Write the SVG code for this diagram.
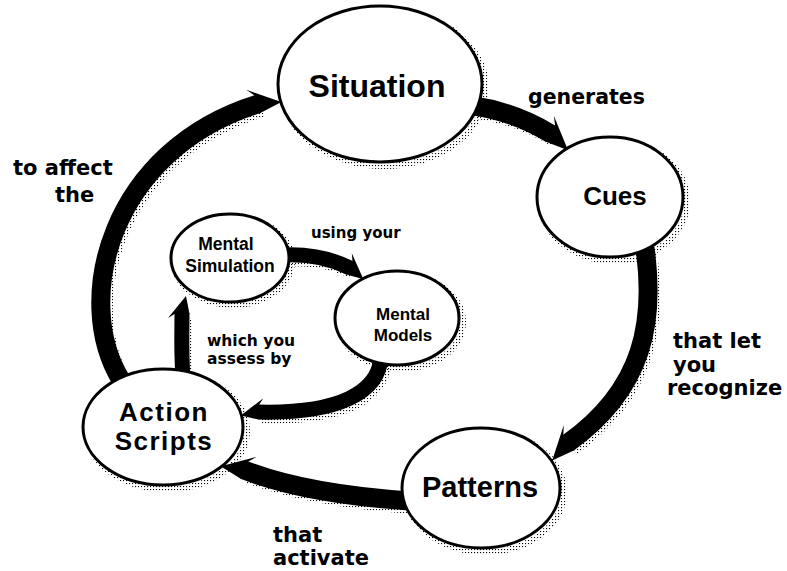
<svg xmlns="http://www.w3.org/2000/svg" width="787" height="571" viewBox="0 0 787 571">
  <defs>
    <pattern id="dots" width="3" height="3" patternUnits="userSpaceOnUse">
      <rect x="0" y="0" width="1.1" height="1.1" fill="#000"/>
    </pattern>
    <marker id="hL" markerUnits="userSpaceOnUse" orient="auto" overflow="visible" refX="0" refY="0" markerWidth="30" markerHeight="30">
      <path d="M-1,-9.5 L-7,-17 L23,5 L-1,9.5 Z" fill="#000"/>
    </marker>
    <marker id="hR" markerUnits="userSpaceOnUse" orient="auto" overflow="visible" refX="0" refY="0" markerWidth="30" markerHeight="30">
      <path d="M-1,9.5 L-7,17 L23,-5 L-1,-9.5 Z" fill="#000"/>
    </marker>
    <marker id="sL" markerUnits="userSpaceOnUse" orient="auto" overflow="visible" refX="0" refY="0" markerWidth="24" markerHeight="24">
      <path d="M-1,-7.5 L-5,-14 L17,4 L-1,7.5 Z" fill="#000"/>
    </marker>
    <marker id="sR" markerUnits="userSpaceOnUse" orient="auto" overflow="visible" refX="0" refY="0" markerWidth="24" markerHeight="24">
      <path d="M-1,7.5 L-5,14 L17,-4 L-1,-7.5 Z" fill="#000"/>
    </marker>
  </defs>
  <style>
    .band { fill: none; stroke: #000; stroke-width: 19; stroke-linecap: butt; }
    .thin { fill: none; stroke: #000; stroke-width: 15; stroke-linecap: butt; }
    .shad { fill: none; stroke: url(#dots); stroke-linecap: butt; }
    .node { fill: #fff; stroke: #000; stroke-width: 3; }
    .nshad { fill: none; stroke: url(#dots); stroke-width: 6; }
    .nl { font-family: "Liberation Sans", Arial, sans-serif; font-weight: bold; fill: #000; text-anchor: middle; }
    .el { font-family: "DejaVu Sans", "Liberation Sans", sans-serif; font-weight: bold; fill: #000; }
  </style>
  <rect width="787" height="571" fill="#fff"/>

  <g id="connectors">
    <g transform="translate(4,5)">
      <path class="shad" stroke-width="16" d="M474,106 C502,110 528,120 551,134"/>
      <path class="shad" stroke-width="16" d="M645,248 C655,320 645,388 568,443"/>
      <path class="shad" stroke-width="16" d="M410,501 C350,497 290,488 244,470"/>
      <path class="shad" stroke-width="16" d="M121,380 C72,300 110,150 258,104"/>
      <path class="shad" stroke-width="13" d="M284,255 C310,254 332,259 350,268"/>
      <path class="shad" stroke-width="13" d="M381,358 C378,392 340,414 258,412"/>
      <path class="shad" stroke-width="13" d="M183,378 C181,350 182,330 182,313"/>
    </g>
    <path id="e-situation-cues" class="band" marker-end="url(#hL)" d="M474,106 C502,110 528,120 551,134"/>
    <path id="e-cues-patterns" class="band" marker-end="url(#hR)" d="M645,248 C655,320 645,388 568,443"/>
    <path id="e-patterns-action" class="band" marker-end="url(#hR)" d="M410,501 C350,497 290,488 244,470"/>
    <path id="e-action-situation" class="band" marker-end="url(#hL)" d="M121,380 C72,300 110,150 258,104"/>
    <path id="e-sim-models" class="thin" marker-end="url(#sL)" d="M284,255 C310,254 332,259 350,268"/>
    <path id="e-models-action" class="thin" marker-end="url(#sR)" d="M381,358 C378,392 340,414 258,412"/>
    <path id="e-action-sim" class="thin" marker-end="url(#sL)" d="M183,378 C181,350 182,330 182,313"/>

    <text class="el" x="528" y="104" font-size="20.5">generates</text>
    <text class="el" x="13" y="175" font-size="21">to affect</text>
    <text class="el" x="55" y="202" font-size="21">the</text>
    <text class="el" x="673" y="348" font-size="21">that let</text>
    <text class="el" x="673" y="372" font-size="21">you</text>
    <text class="el" x="667" y="395" font-size="21">recognize</text>
    <text class="el" x="273" y="542" font-size="21">that</text>
    <text class="el" x="273" y="565" font-size="21">activate</text>
    <text class="el" x="311" y="238" font-size="15">using your</text>
    <text class="el" x="207" y="346" font-size="15.5">which you</text>
    <text class="el" x="207" y="364" font-size="15.5">assess by</text>
  </g>

  <g id="situation">
    <ellipse class="nshad" cx="384" cy="88" rx="102" ry="78"/>
    <ellipse class="node" cx="380" cy="84" rx="102" ry="78"/>
    <text class="nl" x="377" y="97" font-size="32">Situation</text>
  </g>
  <g id="cues">
    <ellipse class="nshad" cx="614" cy="201" rx="73" ry="60"/>
    <ellipse class="node" cx="610" cy="197" rx="73" ry="60"/>
    <text class="nl" x="615" y="205" font-size="26">Cues</text>
  </g>
  <g id="patterns">
    <ellipse class="nshad" cx="485" cy="492" rx="79" ry="60"/>
    <ellipse class="node" cx="481" cy="488" rx="79" ry="60"/>
    <text class="nl" x="480" y="497" font-size="29">Patterns</text>
  </g>
  <g id="action-scripts">
    <ellipse class="nshad" cx="167" cy="431" rx="80" ry="58"/>
    <ellipse class="node" cx="163" cy="427" rx="80" ry="58"/>
    <text class="nl" x="164" y="421" font-size="26" letter-spacing="1.5">Action</text>
    <text class="nl" x="164" y="450" font-size="26" letter-spacing="1.5">Scripts</text>
  </g>
  <g id="mental-simulation">
    <ellipse class="nshad" cx="233" cy="261" rx="59" ry="44"/>
    <ellipse class="node" cx="230" cy="258" rx="59" ry="44"/>
    <text class="nl" x="226" y="250" font-size="17.5">Mental</text>
    <text class="nl" x="230" y="272" font-size="17.5">Simulation</text>
  </g>
  <g id="mental-models">
    <ellipse class="nshad" cx="401" cy="322" rx="62" ry="47"/>
    <ellipse class="node" cx="397" cy="318" rx="62" ry="47"/>
    <text class="nl" x="403" y="320" font-size="17">Mental</text>
    <text class="nl" x="403" y="341" font-size="17">Models</text>
  </g>
</svg>
